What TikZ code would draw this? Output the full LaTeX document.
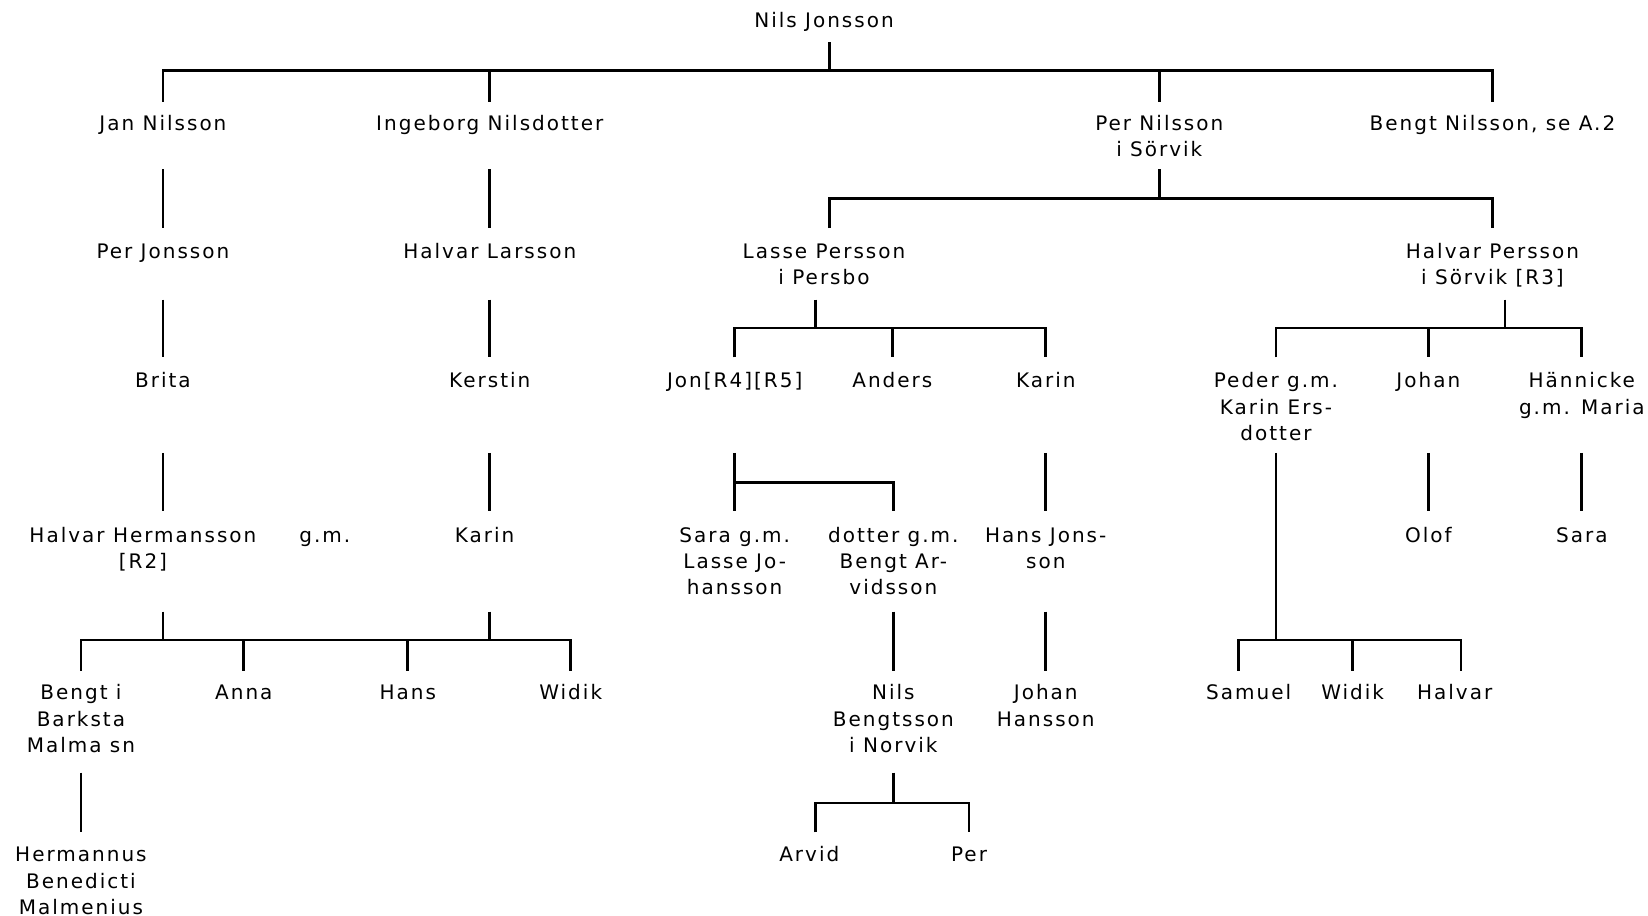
\documentclass[tikz,border=0pt]{standalone}
\usepackage{fontspec}
\newfontfamily\treefont[LetterSpace=10]{DejaVu Sans}
\tikzset{person/.style={align=center,anchor=north,inner sep=0pt,outer sep=0pt,
                        yshift=11.1pt,font=\treefont\fontsize{20}{26.3}\selectfont,
                        execute at begin node=\strut},
         link/.style={line width=2.8pt}}
\begin{document}
\begin{tikzpicture}[x=1.051pt,y=-1.051pt]
  \useasboundingbox (0,0) rectangle (1568,871.5);
  % generations
  \node[person] (nils) at (784,19) {Nils Jonsson};
  \node[person] (jan) at (155,117) {Jan Nilsson};
  \node[person] (ing) at (466,117) {Ingeborg Nilsdotter};
  \node[person] (pern) at (1103,117) {\strut Per Nilsson\\i Sörvik};
  \node[person] (bengtn) at (1420,117) {Bengt Nilsson, se A.2};
  \node[person] (perj) at (155,239) {Per Jonsson};
  \node[person] (halvarl) at (466,239) {Halvar Larsson};
  \node[person] (lasse) at (784,239) {\strut Lasse Persson\\i Persbo};
  \node[person] (halvarp) at (1420,239) {\strut Halvar Persson\\i Sörvik [R3]};
  \node[person] (brita) at (155,362) {Brita};
  \node[person] (kerstin) at (466,362) {Kerstin};
  \node[person] (jon) at (699,362) {Jon[R4][R5]};
  \node[person] (anders) at (849,362) {Anders};
  \node[person] (karin) at (995,362) {Karin};
  \node[person] (peder) at (1214,362) {\strut Peder g.m.\\Karin Ers-\\dotter};
  \node[person] (johan) at (1359,362) {Johan};
  \node[person] (hannicke) at (1505,362) {\strut Hännicke\\g.m. Maria};
  \node[person] (halvarh) at (136,509) {\strut Halvar Hermansson\\{[R2]}};
  \node[person] (gm) at (309,509) {g.m.};
  \node[person] (karinb) at (461,509) {Karin};
  \node[person] (sara) at (699,509) {\strut Sara g.m.\\Lasse Jo-\\hansson};
  \node[person] (dotter) at (850,509) {\strut dotter g.m.\\Bengt Ar-\\vidsson};
  \node[person] (hansj) at (995,509) {\strut Hans Jons-\\son};
  \node[person] (olof) at (1359,509) {Olof};
  \node[person] (sarab) at (1505,509) {Sara};
  \node[person] (bengti) at (77,659) {\strut Bengt i\\Barksta\\Malma sn};
  \node[person] (anna) at (232,659) {Anna};
  \node[person] (hans) at (388,659) {Hans};
  \node[person] (widik) at (543,659) {Widik};
  \node[person] (nilsb) at (850,659) {\strut Nils\\Bengtsson\\i Norvik};
  \node[person] (johanh) at (995,659) {\strut Johan\\Hansson};
  \node[person] (samuel) at (1188,659) {Samuel};
  \node[person] (widikb) at (1287,659) {Widik};
  \node[person] (halvarb) at (1384,659) {Halvar};
  \node[person] (hermannus) at (77,813) {\strut Hermannus\\Benedicti\\Malmenius};
  \node[person] (arvid) at (770,813) {Arvid};
  \node[person] (perb) at (922,813) {Per};
  % line ends off the text centres
  \coordinate (nilsL) at (789,19);
  \coordinate (lasseU) at (789,239);
  \coordinate (lasseD) at (776,239);
  \coordinate (halvarpD) at (1432,239);
  \coordinate (halvarhL) at (155,509);
  \coordinate (karinbL) at (466,509);
  \coordinate (samuelL) at (1178,659);
  \coordinate (halvarbL) at (1390,659);
  \coordinate (arvidL) at (776,813);
  % levels
  \coordinate (l0a) at (0,40);  \coordinate (l0b) at (0,67);  \coordinate (l0c) at (0,97);
  \coordinate (l1a) at (0,161); \coordinate (l1b) at (0,189); \coordinate (l1c) at (0,217);
  \coordinate (l2a) at (0,285); \coordinate (l2b) at (0,312); \coordinate (l2c) at (0,340);
  \coordinate (l3a) at (0,431); \coordinate (l3b) at (0,459); \coordinate (l3c) at (0,486);
  \coordinate (l4a) at (0,582); \coordinate (l4b) at (0,609); \coordinate (l4c) at (0,638);
  \coordinate (l5a) at (0,735); \coordinate (l5b) at (0,764); \coordinate (l5c) at (0,792);
  % Nils Jonsson
  \draw[link] (nilsL |- l0a) -- (nilsL |- l0b);
  \draw[link] (jan |- l0c) -- (jan |- l0b) -- (bengtn |- l0b) -- (bengtn |- l0c);
  \foreach \c in {ing,pern} \draw[link] (\c |- l0b) -- (\c |- l0c);
  % Per Nilsson
  \draw[link] (pern |- l1a) -- (pern |- l1b);
  \draw[link] (lasseU |- l1c) -- (lasseU |- l1b) -- (halvarp |- l1b) -- (halvarp |- l1c);
  % Lasse Persson
  \draw[link] (lasseD |- l2a) -- (lasseD |- l2b);
  \draw[link] (jon |- l2c) -- (jon |- l2b) -- (karin |- l2b) -- (karin |- l2c);
  \draw[link] (anders |- l2b) -- (anders |- l2c);
  % Halvar Persson
  \draw[link] (halvarpD |- l2a) -- (halvarpD |- l2b);
  \draw[link] (peder |- l2c) -- (peder |- l2b) -- (hannicke |- l2b) -- (hannicke |- l2c);
  \draw[link] (johan |- l2b) -- (johan |- l2c);
  % Jon
  \draw[link] (jon |- l3a) -- (jon |- l3c);
  \draw[link] (jon |- l3b) -- (dotter |- l3b) -- (dotter |- l3c);
  % Peder
  \draw[link] (peder |- l3a) -- (peder |- l4b);
  \draw[link] (samuelL |- l4c) -- (samuelL |- l4b) -- (halvarbL |- l4b) -- (halvarbL |- l4c);
  \draw[link] (widikb |- l4b) -- (widikb |- l4c);
  % Halvar Hermansson g.m. Karin
  \draw[link] (halvarhL |- l4a) -- (halvarhL |- l4b);
  \draw[link] (karinbL |- l4a) -- (karinbL |- l4b);
  \draw[link] (bengti |- l4c) -- (bengti |- l4b) -- (widik |- l4b) -- (widik |- l4c);
  \foreach \c in {anna,hans} \draw[link] (\c |- l4b) -- (\c |- l4c);
  % Nils Bengtsson
  \draw[link] (nilsb |- l5a) -- (nilsb |- l5b);
  \draw[link] (arvidL |- l5c) -- (arvidL |- l5b) -- (perb |- l5b) -- (perb |- l5c);
  % single lines
  \foreach \a/\b in {jan/perj,ing/halvarl}
    \draw[link] (\a |- l1a) -- (\b |- l1c);
  \foreach \a/\b in {perj/brita,halvarl/kerstin}
    \draw[link] (\a |- l2a) -- (\b |- l2c);
  \foreach \a/\b in {brita/halvarhL,kerstin/karinbL,karin/hansj,johan/olof,hannicke/sarab}
    \draw[link] (\a |- l3a) -- (\b |- l3c);
  \foreach \a/\b in {dotter/nilsb,hansj/johanh}
    \draw[link] (\a |- l4a) -- (\b |- l4c);
  \draw[link] (bengti |- l5a) -- (hermannus |- l5c);
\end{tikzpicture}
\end{document}
